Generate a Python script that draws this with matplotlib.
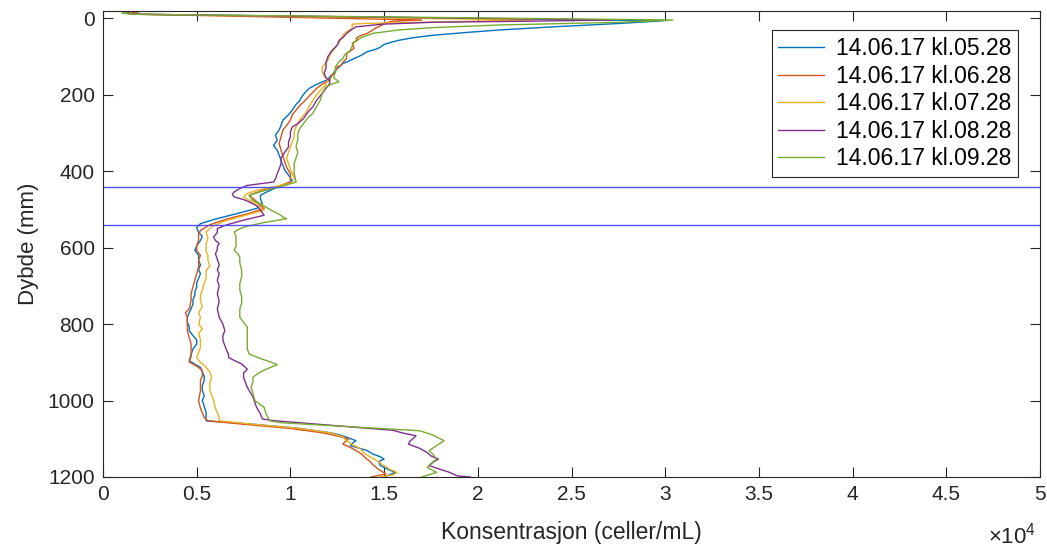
import numpy as np
import matplotlib
matplotlib.use("Agg")
import matplotlib.pyplot as plt

plt.rcParams['font.family'] = ['Liberation Sans', 'DejaVu Sans']
plt.rcParams['mathtext.fontset'] = 'custom'
plt.rcParams['mathtext.rm'] = 'Liberation Sans'

# ---- data: (depth mm, concentration in 10^4 celler/mL) ----
labels = ["14.06.17 kl.05.28", "14.06.17 kl.06.28", "14.06.17 kl.07.28",
          "14.06.17 kl.08.28", "14.06.17 kl.09.28"]
colors = ["#0072BD", "#D95319", "#EDB120", "#7E2F8E", "#77AC30"]

profile_0528 = np.array([
    (-19.5, 0.17), (-17, 0.19), (-14, 0.14), (-11, 0.20), (6, 2.99), (13, 2.76), (22, 2.40),
    (30, 2.12), (37, 1.93), (44, 1.76), (50, 1.66), (57, 1.58), (62, 1.54), (68, 1.50),
    (75, 1.48), (80, 1.46), (87, 1.41), (96, 1.38), (105, 1.34), (112, 1.31), (118, 1.28),
    (127, 1.26), (135, 1.24), (144, 1.23), (153, 1.21), (160, 1.20), (166, 1.17), (175, 1.13),
    (183, 1.10), (193, 1.08), (205, 1.06), (215, 1.05), (225, 1.03), (240, 1.01), (252, 0.99),
    (266, 0.96), (280, 0.95), (292, 0.94), (305, 0.92), (319, 0.93), (332, 0.91), (345, 0.93),
    (358, 0.94), (371, 0.95), (385, 0.96), (397, 0.97), (410, 0.99), (424, 1.01), (435, 0.97),
    (444, 0.92), (455, 0.87), (463, 0.84), (472, 0.84), (484, 0.85), (490, 0.84), (497, 0.82),
    (510, 0.72), (525, 0.60), (537, 0.52), (547, 0.50), (560, 0.51), (570, 0.53), (581, 0.52),
    (595, 0.50), (607, 0.49), (620, 0.51), (633, 0.51), (645, 0.52), (657, 0.51), (668, 0.52),
    (680, 0.51), (692, 0.50), (703, 0.50), (715, 0.49), (725, 0.49), (736, 0.48), (747, 0.48),
    (760, 0.47), (770, 0.46), (782, 0.45), (795, 0.45), (805, 0.46), (817, 0.46), (830, 0.48),
    (841, 0.50), (852, 0.50), (865, 0.48), (880, 0.47), (895, 0.46), (905, 0.49), (913, 0.52),
    (925, 0.53), (936, 0.54), (948, 0.54), (960, 0.53), (974, 0.53), (987, 0.54), (1000, 0.53),
    (1015, 0.54), (1030, 0.55), (1044, 0.55), (1053, 0.55), (1061, 0.78), (1073, 1.05),
    (1084, 1.21), (1088, 1.25), (1096, 1.30), (1105, 1.35), (1112, 1.33), (1118, 1.32),
    (1125, 1.37), (1131, 1.41), (1140, 1.44), (1147, 1.48), (1153, 1.50), (1160, 1.47),
    (1170, 1.48), (1180, 1.52), (1188, 1.56), (1194, 1.53), (1200, 1.50)])

profile_0628 = np.array([
    (-19.5, 0.16), (-16, 0.18), (-13, 0.15), (-11, 0.19), (4, 1.70), (7, 1.55), (12, 1.50),
    (17, 1.49), (24, 1.46), (30, 1.44), (39, 1.41), (46, 1.37), (52, 1.35), (57, 1.36),
    (65, 1.33), (78, 1.34), (92, 1.30), (105, 1.30), (115, 1.28), (122, 1.27), (127, 1.25),
    (140, 1.24), (150, 1.22), (161, 1.21), (172, 1.17), (183, 1.14), (198, 1.11), (214, 1.08),
    (228, 1.05), (240, 1.03), (252, 1.01), (266, 1.00), (280, 0.98), (292, 0.96), (310, 0.95),
    (327, 0.94), (345, 0.95), (360, 0.96), (375, 0.97), (390, 0.98), (406, 1.00), (428, 1.00),
    (440, 0.93), (450, 0.85), (463, 0.78), (475, 0.81), (489, 0.84), (497, 0.86), (510, 0.78),
    (525, 0.66), (540, 0.57), (555, 0.52), (565, 0.51), (581, 0.51), (595, 0.50), (607, 0.50),
    (620, 0.52), (633, 0.51), (650, 0.51), (668, 0.50), (685, 0.49), (703, 0.48), (720, 0.47),
    (738, 0.47), (760, 0.46), (770, 0.44), (782, 0.45), (800, 0.45), (817, 0.45), (835, 0.46),
    (852, 0.47), (869, 0.47), (885, 0.47), (899, 0.46), (910, 0.50), (921, 0.53), (935, 0.53),
    (948, 0.52), (965, 0.52), (974, 0.52), (1000, 0.51), (1020, 0.52), (1044, 0.54),
    (1053, 0.56), (1062, 0.75), (1073, 1.00), (1085, 1.18), (1095, 1.27), (1101, 1.31),
    (1108, 1.29), (1114, 1.28), (1125, 1.33), (1140, 1.38), (1150, 1.40), (1157, 1.42),
    (1168, 1.44), (1180, 1.47), (1192, 1.51), (1200, 1.43)])

profile_0728 = np.array([
    (-19.5, 0.13), (-16, 0.15), (-13, 0.12), (-11, 0.18), (4, 2.30), (9, 1.80), (13, 1.40),
    (15, 1.33), (26, 1.33), (35, 1.30), (43, 1.28), (55, 1.27), (70, 1.25), (82, 1.23),
    (96, 1.21), (110, 1.20), (122, 1.18), (127, 1.17), (140, 1.17), (150, 1.18), (161, 1.20),
    (172, 1.19), (188, 1.16), (200, 1.14), (214, 1.12), (230, 1.10), (248, 1.08), (265, 1.05),
    (284, 1.03), (297, 1.02), (310, 1.02), (323, 1.01), (336, 1.00), (350, 0.99), (365, 0.98),
    (380, 0.99), (394, 1.00), (406, 1.01), (428, 1.03), (440, 0.92), (450, 0.82), (458, 0.77),
    (467, 0.75), (476, 0.78), (484, 0.82), (493, 0.84), (502, 0.86), (515, 0.76), (530, 0.65),
    (545, 0.58), (559, 0.55), (575, 0.56), (590, 0.55), (597, 0.55), (610, 0.55), (620, 0.56),
    (633, 0.56), (648, 0.57), (660, 0.55), (680, 0.55), (694, 0.54), (710, 0.53), (725, 0.52),
    (738, 0.52), (755, 0.53), (770, 0.51), (782, 0.52), (800, 0.51), (812, 0.53), (825, 0.51),
    (840, 0.52), (860, 0.52), (875, 0.51), (887, 0.50), (900, 0.52), (913, 0.55), (925, 0.57),
    (939, 0.58), (955, 0.57), (974, 0.57), (985, 0.58), (1000, 0.59), (1020, 0.60),
    (1044, 0.62), (1053, 0.62), (1062, 0.80), (1073, 1.05), (1085, 1.22), (1095, 1.28),
    (1105, 1.30), (1115, 1.33), (1125, 1.37), (1140, 1.40), (1157, 1.46), (1170, 1.50),
    (1180, 1.53), (1188, 1.57), (1194, 1.55), (1200, 1.48)])

profile_0828 = np.array([
    (-19.5, 0.11), (-17, 0.14), (-14, 0.12), (-11, 0.17), (4, 2.72), (7, 2.30), (10, 1.76),
    (15, 1.49), (22, 1.35), (28, 1.33), (39, 1.30), (50, 1.28), (57, 1.26), (70, 1.25),
    (85, 1.22), (100, 1.20), (115, 1.19), (130, 1.19), (144, 1.18), (155, 1.19), (163, 1.21),
    (170, 1.21), (183, 1.19), (196, 1.17), (214, 1.14), (231, 1.12), (247, 1.09), (262, 1.07),
    (275, 1.04), (284, 1.01), (297, 1.00), (310, 1.00), (323, 0.99), (336, 0.99), (350, 0.97),
    (365, 0.95), (380, 0.95), (394, 0.94), (406, 0.93), (420, 0.92), (428, 0.91), (437, 0.77),
    (445, 0.73), (454, 0.70), (460, 0.69), (467, 0.70), (474, 0.75), (480, 0.78), (490, 0.82),
    (502, 0.84), (515, 0.86), (528, 0.75), (540, 0.66), (550, 0.61), (560, 0.61), (572, 0.59),
    (581, 0.60), (589, 0.62), (597, 0.61), (605, 0.61), (616, 0.60), (630, 0.61), (645, 0.62),
    (658, 0.61), (668, 0.62), (685, 0.61), (700, 0.62), (721, 0.61), (740, 0.62), (760, 0.61),
    (782, 0.62), (800, 0.64), (817, 0.65), (830, 0.64), (843, 0.64), (856, 0.65), (869, 0.66),
    (880, 0.67), (887, 0.67), (895, 0.70), (904, 0.74), (918, 0.77), (928, 0.75), (939, 0.75),
    (952, 0.76), (965, 0.77), (974, 0.78), (990, 0.80), (1005, 0.81), (1018, 0.82),
    (1035, 0.84), (1048, 0.85), (1052, 0.90), (1078, 1.55), (1085, 1.60), (1092, 1.67),
    (1097, 1.66), (1105, 1.64), (1114, 1.63), (1125, 1.69), (1136, 1.73), (1145, 1.75),
    (1153, 1.79), (1162, 1.76), (1170, 1.74), (1180, 1.80), (1188, 1.85), (1197, 1.89),
    (1200, 1.96)])

profile_0928 = np.array([
    (-19.5, 0.11), (-17, 0.13), (-14, 0.10), (-11, 0.16), (4, 3.04), (10, 2.76), (17, 2.12),
    (24, 1.76), (30, 1.58), (39, 1.44), (50, 1.38), (61, 1.34), (72, 1.33), (83, 1.32),
    (95, 1.29), (105, 1.28), (113, 1.26), (127, 1.24), (140, 1.24), (155, 1.23), (166, 1.26),
    (172, 1.22), (179, 1.19), (195, 1.17), (214, 1.16), (230, 1.14), (248, 1.12), (262, 1.09),
    (275, 1.07), (288, 1.05), (301, 1.04), (315, 1.04), (336, 1.03), (350, 1.04), (365, 1.03),
    (380, 1.02), (394, 1.02), (406, 1.02), (428, 1.03), (440, 0.95), (452, 0.85), (463, 0.78),
    (476, 0.80), (485, 0.84), (494, 0.87), (505, 0.91), (515, 0.95), (520, 0.96), (524, 0.98),
    (535, 0.85), (545, 0.76), (550, 0.73), (559, 0.70), (570, 0.71), (581, 0.71), (595, 0.71),
    (607, 0.70), (616, 0.72), (625, 0.73), (640, 0.73), (659, 0.74), (675, 0.74), (694, 0.73),
    (710, 0.73), (729, 0.74), (745, 0.74), (760, 0.73), (782, 0.73), (795, 0.75), (808, 0.77),
    (830, 0.77), (852, 0.77), (865, 0.77), (878, 0.78), (890, 0.84), (900, 0.90), (906, 0.93),
    (912, 0.90), (918, 0.87), (928, 0.83), (939, 0.80), (950, 0.80), (965, 0.79), (980, 0.80),
    (1000, 0.81), (1018, 0.86), (1035, 0.87), (1053, 0.89), (1058, 0.95), (1079, 1.69),
    (1090, 1.76), (1105, 1.82), (1118, 1.78), (1131, 1.74), (1140, 1.76), (1153, 1.78),
    (1165, 1.75), (1175, 1.73), (1188, 1.78), (1200, 1.70)])

profiles = [profile_0528, profile_0628, profile_0728, profile_0828, profile_0928]
marker_depths = [440, 540]
x_ticks = [0, 0.5, 1, 1.5, 2, 2.5, 3, 3.5, 4, 4.5, 5]
x_ticklabels = ["0", "0.5", "1", "1.5", "2", "2.5", "3", "3.5", "4", "4.5", "5"]
y_ticks = [0, 200, 400, 600, 800, 1000, 1200]

# ---- figure ----
fig = plt.figure(figsize=(10.47, 5.49), dpi=100)
ax = fig.add_axes([103 / 1047, 1 - 477 / 549, (1040 - 103) / 1047, (477 - 11) / 549])

for prof, lab, col in zip(profiles, labels, colors):
    ax.plot(prof[:, 1], prof[:, 0], color=col, lw=1.0, label=lab)

for d in marker_depths:
    ax.axhline(d, color="#4f4ff5", lw=1.0)

ax.set_xlim(0, 5)
ax.set_ylim(1200, -19.5)
ax.set_xticks(x_ticks)
ax.set_xticklabels(x_ticklabels)
ax.set_yticks(y_ticks)

dark = "#262626"
for sp in ax.spines.values():
    sp.set_color(dark)
    sp.set_linewidth(0.8)
ax.tick_params(direction="in", top=True, right=True, length=7, width=0.8,
               colors=dark, labelsize=15, pad=6)
ax.set_xlabel("Konsentrasjon (celler/mL)", fontsize=16.5, color=dark, labelpad=12)
ax.set_ylabel("Dybde (mm)", fontsize=16, color=dark, labelpad=6)

fig.text(1036 / 1047, 1 - 536 / 549, r"$\times10^{4}$", fontsize=16, color=dark,
         ha="right", va="center")

leg = ax.legend(loc="upper right", bbox_to_anchor=(0.9765, 0.959), fontsize=16.5,
                fancybox=False, framealpha=1, edgecolor=dark, handlelength=2.0,
                borderpad=0.3, labelspacing=0.2, handletextpad=0.5, borderaxespad=0)
leg.get_frame().set_linewidth(0.8)

fig.savefig("out.png", dpi=100)
